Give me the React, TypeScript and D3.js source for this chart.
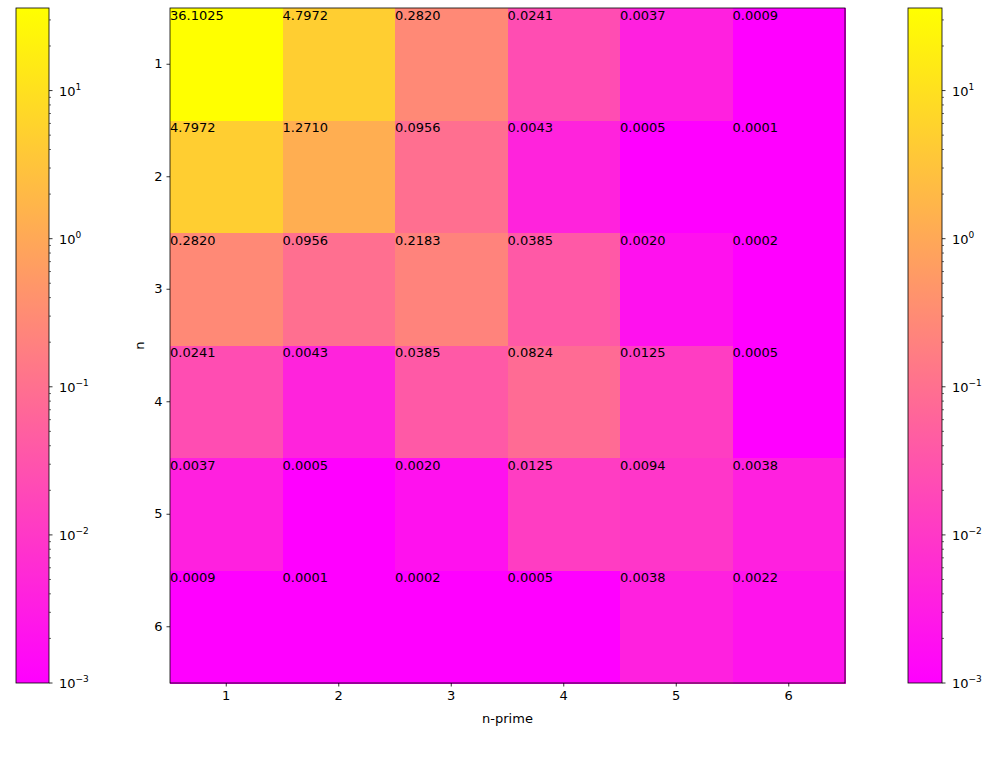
import React, { useEffect, useRef } from "react";
import * as d3 from "d3";

// matrix values, row n = 1..6, column n-prime = 1..6
const labels = [1, 2, 3, 4, 5, 6];
const row1 = [36.1025, 4.7972, 0.282, 0.0241, 0.0037, 0.0009];
const row2 = [4.7972, 1.271, 0.0956, 0.0043, 0.0005, 0.0001];
const row3 = [0.282, 0.0956, 0.2183, 0.0385, 0.002, 0.0002];
const row4 = [0.0241, 0.0043, 0.0385, 0.0824, 0.0125, 0.0005];
const row5 = [0.0037, 0.0005, 0.002, 0.0125, 0.0094, 0.0038];
const row6 = [0.0009, 0.0001, 0.0002, 0.0005, 0.0038, 0.0022];
const rows = [row1, row2, row3, row4, row5, row6];

const vmin = 0.001;
const vmax = 36.1025;
const majorTicks = [1e-3, 1e-2, 1e-1, 1, 10];
const exponents = ["\u22123", "\u22122", "\u22121", "0", "1"];

const FONT = "DejaVu Sans";
const FS = 13;

function spring(t: number) {
  t = Math.max(0, Math.min(1, t));
  return d3.rgb(255, 255 * t, 255 * (1 - t)).toString();
}

function draw(node: SVGSVGElement) {
  const svg = d3.select(node);
  svg.selectAll("*").remove();

  const left = 170,
    right = 845,
    top = 8,
    bottom = 683;

  const norm = d3.scaleLog().domain([vmin, vmax]).range([0, 1]).clamp(true);

  const x = d3.scaleBand<number>().domain(labels).range([left, right]).padding(0);
  const y = d3.scaleBand<number>().domain(labels).range([top, bottom]).padding(0);

  // cells
  const g = svg.append("g");
  rows.forEach((row, i) => {
    row.forEach((v, j) => {
      g.append("rect")
        .attr("x", x(labels[j])!)
        .attr("y", y(labels[i])!)
        .attr("width", x.bandwidth() + 0.5)
        .attr("height", y.bandwidth() + 0.5)
        .style("fill", spring(norm(v)))
        .style("shape-rendering", "crispEdges");
    });
  });
  rows.forEach((row, i) => {
    row.forEach((v, j) => {
      g.append("text")
        .attr("x", x(labels[j])!)
        .attr("y", y(labels[i])! + 11.5)
        .style("font-family", FONT)
        .style("font-size", FS + "px")
        .style("fill", "#000")
        .text(v.toFixed(4));
    });
  });

  // frame
  svg
    .append("rect")
    .attr("x", left)
    .attr("y", top)
    .attr("width", right - left)
    .attr("height", bottom - top)
    .style("fill", "none")
    .style("stroke", "#000")
    .style("stroke-width", "0.8px");

  const xAxis = svg
    .append("g")
    .attr("transform", `translate(0,${bottom})`)
    .call(d3.axisBottom(x).tickSize(3.5).tickSizeOuter(0).tickPadding(4));
  const yAxis = svg
    .append("g")
    .attr("transform", `translate(${left},0)`)
    .call(d3.axisLeft(y).tickSize(3.5).tickSizeOuter(0).tickPadding(4));
  [xAxis, yAxis].forEach((a) => {
    a.select(".domain").remove();
    a.selectAll(".tick line").style("stroke", "#000").style("stroke-width", "0.8px");
    a.selectAll(".tick text")
      .style("font-family", FONT)
      .style("font-size", FS + "px")
      .style("fill", "#000");
  });

  svg
    .append("text")
    .attr("x", (left + right) / 2)
    .attr("y", 723)
    .attr("text-anchor", "middle")
    .style("font-family", FONT)
    .style("font-size", FS + "px")
    .text("n-prime");
  svg
    .append("text")
    .attr("transform", `translate(144,${(top + bottom) / 2}) rotate(-90)`)
    .attr("text-anchor", "middle")
    .style("font-family", FONT)
    .style("font-size", FS + "px")
    .text("n");

  // colorbar gradient
  const defs = svg.append("defs");
  const grad = defs
    .append("linearGradient")
    .attr("id", "springGrad")
    .attr("x1", "0")
    .attr("y1", "1")
    .attr("x2", "0")
    .attr("y2", "0");
  d3.range(0, 1.0001, 0.1).forEach((t) => {
    grad.append("stop").attr("offset", t).style("stop-color", spring(t));
  });

  const cbScale = d3.scaleLog().domain([vmin, vmax]).range([bottom, top]);
  const minorTicks: number[] = [];
  majorTicks.forEach((m) => {
    for (let k = 2; k <= 9; k++) {
      const v = m * k;
      if (v <= vmax) minorTicks.push(v);
    }
  });

  function colorbar(x0: number, w: number) {
    const cb = svg.append("g");
    cb.append("rect")
      .attr("x", x0)
      .attr("y", top)
      .attr("width", w)
      .attr("height", bottom - top)
      .style("fill", "url(#springGrad)")
      .style("stroke", "#000")
      .style("stroke-width", "0.8px");
    const xr = x0 + w;
    cb.selectAll(".minor")
      .data(minorTicks)
      .join("line")
      .attr("x1", xr)
      .attr("x2", xr + 2)
      .attr("y1", (d) => cbScale(d))
      .attr("y2", (d) => cbScale(d))
      .style("stroke", "#000")
      .style("stroke-width", "0.6px");
    cb.selectAll(".major")
      .data(majorTicks)
      .join("line")
      .attr("x1", xr)
      .attr("x2", xr + 3.5)
      .attr("y1", (d) => cbScale(d))
      .attr("y2", (d) => cbScale(d))
      .style("stroke", "#000")
      .style("stroke-width", "0.8px");
    const lab = cb
      .selectAll(".lab")
      .data(majorTicks)
      .join("text")
      .attr("x", xr + 10)
      .attr("y", (d) => cbScale(d) + 5)
      .style("font-family", FONT)
      .style("font-size", FS + "px")
      .style("fill", "#000");
    lab.append("tspan").text("10");
    lab
      .append("tspan")
      .attr("dy", -6)
      .style("font-size", "9px")
      .text((d, i) => exponents[i]);
  }
  colorbar(16, 33);
  colorbar(908, 34);
}

export default function App() {
  const ref = useRef<SVGSVGElement>(null);
  useEffect(() => {
    if (ref.current) draw(ref.current);
  }, []);
  return (
    <svg
      ref={ref}
      width={984}
      height={776}
      style={{ position: "absolute", left: 0, top: 0, background: "#fff" }}
    />
  );
}
